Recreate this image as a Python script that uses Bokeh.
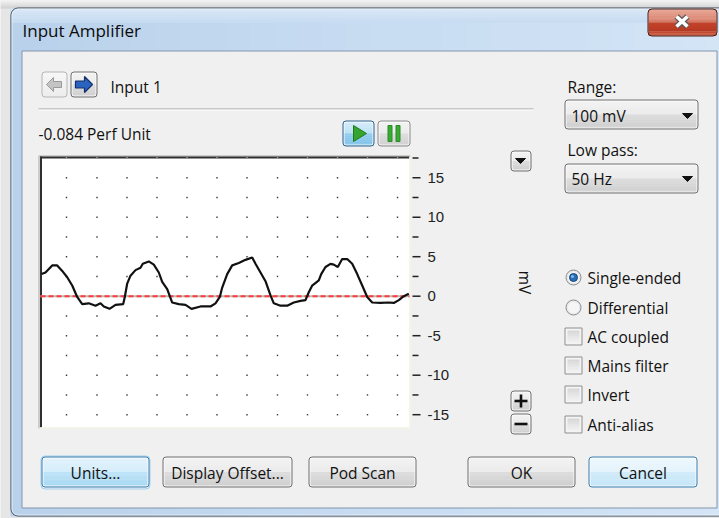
import math
from bokeh.plotting import figure
from bokeh.models import Range1d
from bokeh.core.properties import value
from bokeh.embed import file_html
from bokeh.resources import INLINE

# ---------------- data ----------------
sample_index = [1, 5, 11.7, 16.7, 21.7, 26.7, 31.7, 36.7, 41.7, 48.3, 55, 60, 63.3, 69, 75,
                82.7, 84.3, 86.7, 90, 95, 100, 102.3, 108.3, 113.3, 118.3, 121.7, 126.7,
                131.7, 138.3, 145, 151, 160, 170, 175, 179.3, 181.7, 186.7, 191.7, 198.3,
                205, 211.7, 215, 220, 225, 230, 233.3, 240, 246.7, 253.3, 260, 265, 268.3,
                271.7, 278.3, 280.7, 285, 290, 293.3, 297.3, 301.7, 306.7, 311.7, 316.7,
                321.7, 326.7, 331.7, 340, 348.3, 353.3, 358.3, 363.3, 368.3]
signal_mv = [2.8, 3.0, 3.9, 3.9, 3.2, 2.4, 1.35, -0.1, -1.0, -0.9, -1.2, -0.9, -1.3, -1.6, -1.1,
             -1.0, -0.1, 1.6, 2.6, 3.3, 3.6, 4.1, 4.4, 4.0, 3.0, 1.8, 0.9,
             -0.8, -1.0, -1.1, -1.6, -1.3, -1.3, -0.9, -0.1, 1.1, 2.8, 3.9, 4.2,
             4.6, 4.9, 4.1, 3.0, 1.9, 0.1, -0.9, -1.2, -1.2, -0.8, -0.6, -0.5, 0.5,
             1.35, 2.0, 2.8, 3.7, 4.1, 4.0, 3.7, 4.7, 4.7, 4.1, 2.8,
             1.35, -0.1, -0.8, -0.85, -0.8, -0.85, -0.5, 0.0, 0.3]
zero_level_mv = [0, 0]
zero_level_span = [0, 369]
tick_values_mv = [15, 10, 5, 0, -5, -10, -15]
tick_labels = ["15", "10", "5", "0", "-5", "-10", "-15"]
minor_tick_values_mv = [17.5, 12.5, 7.5, 2.5, -2.5, -7.5, -12.5]
grid_rows_mv = [15, 12.5, 10, 7.5, 5, 2.5, 0, -2.5, -5, -7.5, -10, -12.5, -15]
grid_cols = [26, 56.5, 86.5, 116.5, 146.5, 176.5, 206.5, 237, 267, 297, 327, 357]
unit_label = "mV"
title_text = "Input Amplifier"
channel_text = "Input 1"
reading_text = "-0.084 Perf Unit"
range_label, range_value = "Range:", "100 mV"
lowpass_label, lowpass_value = "Low pass:", "50 Hz"
radio_labels = ["Single-ended", "Differential"]
checkbox_labels = ["AC coupled", "Mains filter", "Invert", "Anti-alias"]
button_labels = ["Units...", "Display Offset...", "Pod Scan", "OK", "Cancel"]

# ---------------- layout (reference pixel space) ----------------
W, H = 719, 518
OX, OY = 0, 0
FONT = "Open Sans"
FS = 15.5
BOX = (40, 156, 409, 427)
ZERO_PX = 295.7
PX_PER_MV = 7.9
T0_PX = 40

p = figure(width=W, height=H, x_range=Range1d(OX, OX + W), y_range=Range1d(OY + H, OY),
           output_backend="svg", toolbar_location=None, min_border=0,
           x_axis_location=None, y_axis_location=None)
p.grid.visible = False
p.outline_line_color = None
p.background_fill_color = "#e6e6e6"
p.border_fill_color = "#e6e6e6"
p.extra_x_ranges = {"t": Range1d(OX - T0_PX, OX + W - T0_PX)}
p.extra_y_ranges = {"mv": Range1d((ZERO_PX - (OY + H)) / PX_PER_MV, (ZERO_PX - OY) / PX_PER_MV)}


def h2r(c):
    c = c.lstrip("#")
    return [int(c[i:i + 2], 16) for i in (0, 2, 4)]


def r2h(r):
    return "#%02x%02x%02x" % tuple(max(0, min(255, int(round(v)))) for v in r)


def color_at(stops, f):
    for i in range(len(stops) - 1):
        c0, f0 = stops[i]
        c1, f1 = stops[i + 1]
        if f0 <= f <= f1:
            if f1 == f0:
                return c1
            u = (f - f0) / (f1 - f0)
            a, b = h2r(c0), h2r(c1)
            return r2h([a[k] + (b[k] - a[k]) * u for k in range(3)])
    return stops[-1][0]


def vgrad(x0, y0, x1, y1, stops, n=12):
    h = (y1 - y0) / n
    tops = [y0 + i * h for i in range(n)]
    bots = [y0 + (i + 1) * h + 0.3 for i in range(n)]
    cols = [color_at(stops, (i + 0.5) / n) for i in range(n)]
    p.quad(left=[x0] * n, right=[x1] * n, top=tops, bottom=bots, fill_color=cols, line_color=None)


def hgrad(x0, y0, x1, y1, stops, n=30):
    w = (x1 - x0) / n
    lefts = [x0 + i * w for i in range(n)]
    rights = [x0 + (i + 1) * w + 0.5 for i in range(n)]
    cols = [color_at(stops, (i + 0.5) / n) for i in range(n)]
    p.quad(left=lefts, right=rights, top=[y0] * n, bottom=[y1] * n, fill_color=cols, line_color=None)


def frame(x0, y0, x1, y1, color, lw=1, radius=3, fill=None):
    p.quad(left=x0 + 0.5, right=x1 - 0.5, top=y0 + 0.5, bottom=y1 - 0.5, fill_color=fill,
           line_color=color, line_width=lw, border_radius=radius)


GRAY_BTN = [("#f3f3f3", 0), ("#ebebeb", 0.5), ("#dddddd", 0.5), ("#cfcfcf", 1)]
BLUE_BTN = [("#e3f3fc", 0), ("#d4edfb", 0.5), ("#bfe4f8", 0.5), ("#a9d9f3", 1)]
LIGHTBLUE_BTN = [("#eef8fd", 0), ("#e3f3fc", 0.5), ("#d2ecfa", 0.5), ("#c4e5f7", 1)]


def button(x0, y0, x1, y1, stops, border, radius=3):
    vgrad(x0 + 1, y0 + 1, x1 - 1, y1 - 1, stops)
    frame(x0 + 1, y0 + 1, x1 - 1, y1 - 1, "#fbfbfb", radius=2)
    frame(x0, y0, x1, y1, border, radius=radius)


def txt(x, y, s, size=FS, align="left", color="#111111", font=FONT, angle=0.0, style="normal"):
    p.text(x=[x], y=[y], text=[s], text_font=value(font), text_font_size=f"{size}px",
           text_align=align, text_baseline="middle", text_color=color, angle=angle,
           text_font_style=style)


# ---------------- window chrome ----------------
vgrad(0, 0, 719, 8, [("#f4f4f4", 0), ("#cfcfcf", 1)], n=4)
hgrad(10, 8, 730, 516, [("#b9d1ea", 0), ("#c6dbf1", 0.45), ("#d4e5f6", 1)])
vgrad(10, 8, 730, 22, [("#d9e8f7", 0), ("#c8dcf1", 1)], n=6)
p.quad(left=10.5, right=735, top=7.5, bottom=515.5, fill_color=None, line_color="#3b4653",
       border_radius=7)
p.quad(left=11.5, right=735, top=8.5, bottom=514.5, fill_color=None, line_color="#eef5fc",
       line_alpha=0.8, border_radius=6)
txt(22, 30, title_text, size=17, color="#0b0b0b")

# close button
vgrad(648, 9, 716, 35, [("#e8a999", 0), ("#d9826c", 0.45), ("#c4432a", 0.5), ("#b93a23", 0.8), ("#d0654b", 1)])
frame(647, 8, 717, 36, "#4a1a10", radius=4)
p.segment(x0=[676, 676], y0=[16, 26], x1=[687, 687], y1=[26, 16], line_color="#5a5a5a", line_width=6)
p.segment(x0=[676, 676], y0=[16, 26], x1=[687, 687], y1=[26, 16], line_color="#ffffff", line_width=3.5)

# client area
p.quad(left=21.5, right=716.5, top=50.5, bottom=507.5, fill_color="#f0f0f0", line_color="#8396ad")

# ---------------- top controls ----------------
vgrad(42, 72, 66, 96, [("#f7f7f7", 0), ("#ededed", 1)])
frame(41, 71, 67, 97, "#b5b5b5", radius=3)
p.patch(x=[46, 53, 53, 61, 61, 53, 53], y=[84, 77, 81, 81, 87, 87, 91], fill_color="#c4c4c4",
        line_color="#9a9a9a")
button(70, 71, 97, 97, GRAY_BTN, "#707070")
p.patch(x=[92, 84, 84, 75, 75, 84, 84], y=[84, 76, 80.5, 80.5, 87.5, 87.5, 92], fill_color="#2b63c0",
        line_color="#142f6a", line_width=1.2)
txt(110, 86, channel_text)
p.segment(x0=[38], y0=[108.5], x1=[533], y1=[108.5], line_color="#a0a0a0")
p.segment(x0=[38], y0=[109.5], x1=[533], y1=[109.5], line_color="#ffffff")
txt(38, 133, reading_text)

# play / pause
button(342, 120, 374, 146, [("#d6eefb", 0), ("#b8e0f6", 0.5), ("#92cdef", 0.5), ("#7cc1e9", 1)], "#2c628b")
p.patch(x=[353, 353, 366], y=[125, 141, 133], fill_color="#35a52f", line_color="#1f7a1c")
button(377, 120, 410, 146, GRAY_BTN, "#8a8a8a")
p.quad(left=[387.5, 395.5], right=[391.5, 399.5], top=[125, 125], bottom=[141, 141],
       fill_color="#39ab33", line_color="#2a8a26")

# small dropdown button
button(510, 150, 531, 171, GRAY_BTN, "#707070")
p.patch(x=[515, 525, 520], y=[158, 158, 163], fill_color="#111111", line_color="#111111")

# range / low pass combos
txt(567, 86, range_label)
button(564, 99, 698, 129, GRAY_BTN, "#707070")
txt(571, 115, range_value)
p.patch(x=[682, 692, 687], y=[113, 113, 118], fill_color="#111111", line_color="#111111")
txt(567, 149, lowpass_label)
button(564, 163, 698, 193, GRAY_BTN, "#707070")
txt(571, 178, lowpass_value)
p.patch(x=[682, 692, 687], y=[176, 176, 181], fill_color="#111111", line_color="#111111")

# ---------------- scope display ----------------
x0, y0, x1, y1 = BOX
p.quad(left=x0, right=x1, top=y0, bottom=y1, fill_color="#ffffff", line_color=None)
p.segment(x0=[x0 - 2], y0=[y0 - 0.5], x1=[x1 + 1], y1=[y0 - 0.5], line_color="#a8a8a8")
p.segment(x0=[x0 - 1.5], y0=[y0], x1=[x0 - 1.5], y1=[y1 + 1], line_color="#a8a8a8")
p.segment(x0=[x0], y0=[y0 + 1], x1=[x1], y1=[y0 + 1], line_color="#2f2f2f", line_width=2)
p.segment(x0=[x0 + 0.5], y0=[y0], x1=[x0 + 0.5], y1=[y1], line_color="#2f2f2f", line_width=2)
p.segment(x0=[x1 + 0.5], y0=[y0], x1=[x1 + 0.5], y1=[y1 + 0.5], line_color="#f5f4e6", line_width=1.5)
p.segment(x0=[x0 - 1], y0=[y1 + 0.5], x1=[x1 + 1], y1=[y1 + 0.5], line_color="#f5f4e6", line_width=1.5)

gx = [c for c in grid_cols for _ in grid_rows_mv]
gy = [r for _ in grid_cols for r in grid_rows_mv]
p.rect(x=gx, y=gy, width=1.4, height=1.4, width_units="screen", height_units="screen",
       fill_color="#3a3a3a", line_color=None, x_range_name="t", y_range_name="mv")
p.rect(x=grid_cols, y=[17.5] * len(grid_cols), width=1.4, height=2, width_units="screen",
       height_units="screen", fill_color="#9a9a9a", line_color=None, x_range_name="t", y_range_name="mv")

p.line(x=zero_level_span, y=zero_level_mv, line_color="#b9b9b9", line_width=2,
       x_range_name="t", y_range_name="mv")
p.line(x=zero_level_span, y=zero_level_mv, line_color="#ff3b3b", line_width=2, line_dash="5 3",
       x_range_name="t", y_range_name="mv")
p.line(x=sample_index, y=signal_mv, line_color="#111111", line_width=2.2,
       x_range_name="t", y_range_name="mv")

# right-hand scale
p.segment(x0=[412] * len(tick_values_mv), y0=tick_values_mv, x1=[420] * len(tick_values_mv),
          y1=tick_values_mv, line_color="#222222", line_width=1.5, y_range_name="mv")
p.segment(x0=[412] * len(minor_tick_values_mv), y0=minor_tick_values_mv,
          x1=[418] * len(minor_tick_values_mv), y1=minor_tick_values_mv, line_color="#222222",
          line_width=1.5, y_range_name="mv")
p.text(x=[427] * len(tick_values_mv), y=tick_values_mv, text=tick_labels,
       text_font=value("Liberation Sans"), text_font_size="15px", text_baseline="middle",
       text_align="left", text_color="#222222", y_range_name="mv")
txt(524, 282, unit_label, size=FS, align="center", angle=-math.pi / 2)

# zoom buttons
button(510, 390, 531, 411, GRAY_BTN, "#707070")
p.quad(left=[514, 519.2], right=[527, 521.8], top=[399.2, 394], bottom=[401.8, 407],
       fill_color="#111111", line_color=None)
button(510, 413, 531, 434, GRAY_BTN, "#707070")
p.quad(left=[514], right=[527], top=[422.2], bottom=[424.8], fill_color="#111111", line_color=None)

# ---------------- options ----------------
radio_y = [277, 307]
for i, (lab, yy) in enumerate(zip(radio_labels, radio_y)):
    p.circle(x=[573], y=[yy], radius=7.5, fill_color="#e9e9e9", line_color="#8c8c8c")
    p.circle(x=[573], y=[yy], radius=5.5, fill_color="#f6f6f6", line_color=None)
    if i == 0:
        p.circle(x=[573], y=[yy], radius=4, fill_color="#2a6cb3", line_color="#17487f")
        p.circle(x=[572], y=[yy - 1], radius=1.6, fill_color="#7ab8ec", line_color=None)
    txt(587, yy, lab)

check_y = [336, 365, 394, 424]
for lab, yy in zip(checkbox_labels, check_y):
    p.quad(left=564.5, right=581.5, top=yy - 8.5, bottom=yy + 8.5, fill_color="#f4f4f4",
           line_color="#8e8f8f")
    vgrad(567, yy - 6, 579, yy + 6, [("#d6d6d6", 0), ("#f1f1f1", 1)], n=6)
    txt(587, yy, lab)

# ---------------- bottom buttons ----------------
btn_x = [(41, 149), (162, 292), (308, 416), (467, 575), (588, 697)]
btn_style = [(BLUE_BTN, "#3c7fb1"), (GRAY_BTN, "#707070"), (GRAY_BTN, "#707070"),
             (GRAY_BTN, "#707070"), (LIGHTBLUE_BTN, "#3c7fb1")]
for lab, (bx0, bx1), (st, bc) in zip(button_labels, btn_x, btn_style):
    if lab == button_labels[0]:
        frame(bx0 - 1, 455, bx1 + 1, 489, "#9fd0ee", radius=4)
    button(bx0, 456, bx1, 487, st, bc)
    txt((bx0 + bx1) / 2, 472, lab, align="center")

open("out.html", "w").write(file_html(p, INLINE))
